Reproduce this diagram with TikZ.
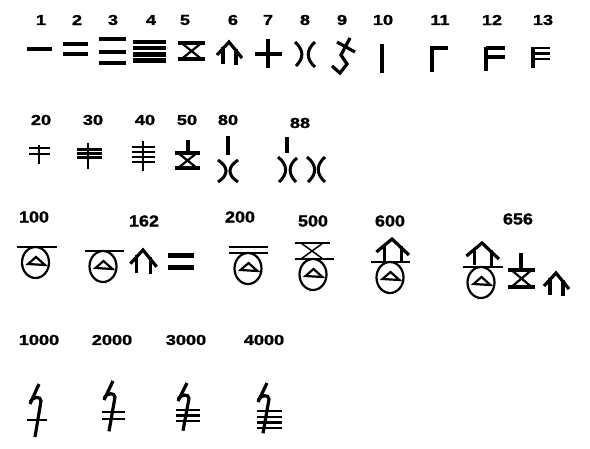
\documentclass[tikz,border=0pt]{standalone}
\usepackage{fontspec}
\setmainfont{Liberation Sans}
\begin{document}
\begin{tikzpicture}[x=1pt,y=-1pt,
  w2/.style={line width=2.2pt},
  w3/.style={line width=3.2pt},
  w4/.style={line width=4.3pt},
  lab/.style={font=\fontsize{14.5}{14.5}\selectfont\bfseries\addfontfeatures{FakeBold=1.2}, xscale=1.25, inner sep=0pt},
  labb/.style={font=\fontsize{16}{16}\selectfont\bfseries\addfontfeatures{FakeBold=1.2}, xscale=1.12, inner sep=0pt},
  six/.pic={\draw[w3, line join=miter] (-12,13) -- (0,0) -- (13,16);
            \draw[w3] (-6,5) -- (-6,22); \draw[w3] (7,7) -- (7,23);},
  fivep/.pic={\draw[w4] (-13.5,-8) -- (13.5,-8) (-13.5,8) -- (13.5,8);
              \draw[w2] (-10,-8) -- (10,8) (10,-8) -- (-10,8);},
  oval/.pic={\draw[w2] (0,0) ellipse [x radius=13.5, y radius=15.5];
             \draw[w2, line join=miter] (-7.5,1.5) -- (0.5,-5.5) -- (9.5,2.5) -- cycle;},
  thou/.pic={\draw[w3, line join=round] (0,0) -- (-9,20);
             \draw[w3] (-9,18) .. controls (-6,12) and (2,12) .. (2,17) -- (-4,53);},
  lobe/.style={line width=3pt}
]
\fill[white] (0,0) rectangle (590,448);
\useasboundingbox (0,0) rectangle (590,448);

% ---------- row 1 labels
\foreach \t/\x in {1/41,2/77,3/113,4/151,5/185,6/233,7/268,8/305,9/342,10/383,11/440,12/492,13/543}
  \node[lab] (n\t) at (\x,20) {\t};

% 1
\draw[w4] (27,49) -- (52,49);
% 2
\draw[w4] (63,44) -- (88,44) (63,54) -- (88,54);
% 3
\draw[w4] (99,39) -- (126,39) (99,52) -- (126,52) (99,63) -- (126,63);
% 4
\draw[w4] (133,42.2) -- (166,42.2) (133,48.3) -- (166,48.3) (133,54.4) -- (166,54.4) (133,60.6) -- (166,60.6);
% 5
\pic at (191.5,51) {fivep};
% 6
\pic at (229,42) {six};
% 7
\draw[w4] (255,54) -- (282,54) (268,39) -- (268,68);
% 8
\draw[lobe] (295,42) .. controls (304,50) and (304,58) .. (296,66);
\draw[lobe] (315,42) .. controls (306,50) and (306,59) .. (315,67);
% 9
\draw[w3] (337,42) -- (355,52);
\draw[w3, line join=miter] (350,38) -- (341,55) -- (347,64) -- (340,73) -- (332,66);
% 10
\draw[w4] (382,44) -- (382,73);
% 11
\draw[w4] (432,72) -- (432,48);
\draw[w3] (430,48) -- (448,48);
% 12
\draw[w4] (486,71) -- (486,47);
\draw[w3] (486,48) -- (505,48) (486,57) -- (505,57);
% 13
\draw[w3] (533,68) -- (533,47);
\draw[w2] (533,48) -- (550,48) (533,53.5) -- (550,53.5) (533,59) -- (550,59);

% ---------- row 2
\foreach \t/\x in {20/41,30/93,40/145,50/187,80/228}
  \node[lab] (n\t) at (\x,120) {\t};
\node[lab] (n88) at (300,123) {88};
% 20
\draw[w2] (39,145) -- (39,164) (29,148) -- (50,148) (29,154) -- (50,154);
% 30
\draw[w2] (88,143) -- (88,169);
\draw[w3] (77,149.5) -- (102,149.5) (77,153.5) -- (102,153.5);
\draw[w2] (77,157.5) -- (102,157.5);
% 40
\draw[w2] (143,141) -- (143,171) (132,147) -- (155,147) (132,152) -- (155,152) (132,157) -- (155,157) (132,162) -- (155,162);
% 50
\draw[w4] (188,140) -- (188,153);
\pic[scale=0.95] at (187.5,160.5) {fivep};
% 80
\draw[w4] (228,136) -- (228,155);
\draw[lobe] (218,160) .. controls (228.7,167) and (228.7,175) .. (218,182);
\draw[lobe] (238,160) .. controls (227.3,167) and (227.3,175) .. (238,182);
% 88
\draw[w4] (287,137) -- (287,153);
\draw[lobe] (278,157) .. controls (288,165) and (288,174) .. (279,182);
\draw[lobe] (297,158) .. controls (288,165) and (288,174) .. (296,182);
\draw[lobe] (307,157) .. controls (317,165) and (317,174) .. (308,182);
\draw[lobe] (325,157) .. controls (316,165) and (316,174) .. (325,182);

% ---------- row 3
\node[labb] (n100) at (34,217) {100};
\node[labb] (n162) at (144,221) {162};
\node[labb] (n200) at (240,217) {200};
\node[labb] (n500) at (313,221) {500};
\node[labb] (n600) at (390,221) {600};
\node[labb] (n656) at (518,219) {656};
% 100
\draw[w2] (17,247) -- (57,247);
\pic at (35.5,262.5) {oval};
% 162
\draw[w2] (85,251) -- (124,251);
\pic at (103,266.5) {oval};
\pic[scale=1.05] at (143,250) {six};
\draw[line width=5pt] (168,255) -- (194,255) (168,267) -- (194,267);
% 200
\draw[w2] (229,247) -- (268,247) (229,253) -- (268,253);
\pic at (248,268.5) {oval};
% 500
\draw[w2] (295,243) -- (330,243) (295,259) -- (334,259);
\draw[line width=1.5pt] (301,243) -- (323,259) (323,243) -- (301,259);
\pic at (313,274.5) {oval};
% 600
\pic[xscale=1.3] at (392,239) {six};
\draw[w2] (371,262) -- (410,262);
\pic at (390,277.5) {oval};
% 656
\pic[xscale=1.3] at (482,243) {six};
\draw[w2] (463,267) -- (503,267);
\pic at (481,282.5) {oval};
\draw[w4] (521,253) -- (521,270);
\pic[yscale=1.05] at (521.5,278.5) {fivep};
\pic at (556,273) {six};

% ---------- row 4
\foreach \t/\x in {1000/39,2000/112,3000/186,4000/264}
  \node[lab] (n\t) at (\x,340) {\t};
\pic at (39,384) {thou};
\draw[w2] (27,420) -- (47,420);
\pic[yscale=0.95] at (113,381) {thou};
\draw[w2] (102,412) -- (125,412) (102,419) -- (125,419);
\pic[yscale=0.9] at (187,383) {thou};
\draw[w2] (176,410) -- (200,410) (176,415.5) -- (200,415.5) (176,421) -- (200,421);
\pic[yscale=0.95] at (267,383) {thou};
\draw[w2] (257,411) -- (282,411) (257,417) -- (282,417) (257,422.5) -- (282,422.5) (257,428) -- (282,428);
\end{tikzpicture}
\end{document}
